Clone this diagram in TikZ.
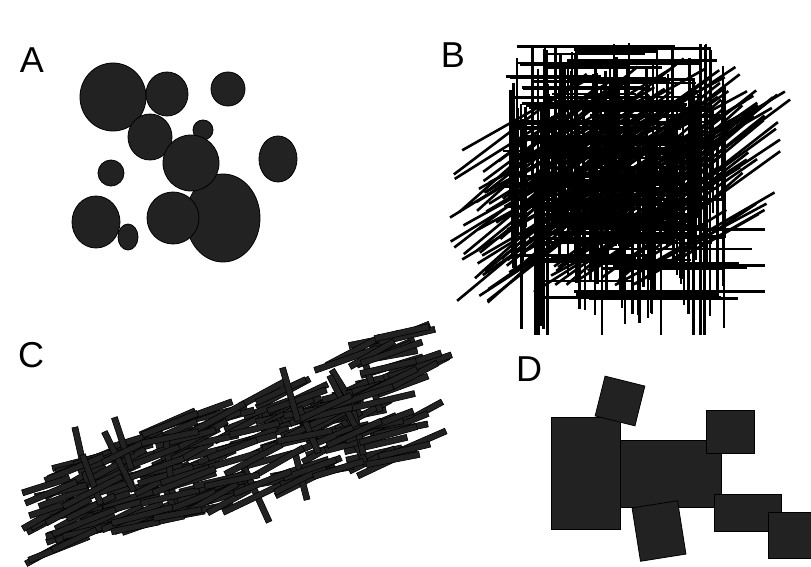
\documentclass[tikz,border=0pt]{standalone}
\usepackage{fontspec}
\setmainfont{Liberation Sans}
\usetikzlibrary{calc}
\definecolor{blob}{HTML}{222222}
\tikzset{
  panel/.style={font=\fontsize{36}{40}\selectfont,inner sep=0pt},
  disc/.style={draw=black,fill=blob,line width=0.8pt},
  rod/.style={draw=black,line width=2.6pt},
  bar/.style={draw=black,fill=blob,line width=0.6pt},
  slab/.style={draw=black,fill=blob,line width=0.8pt}
}

\begin{document}
\begin{tikzpicture}[x=1pt,y=-1pt]
  \useasboundingbox (0,0) rectangle (811,567);
  \clip (0,0) rectangle (811,567);
  \pgfmathsetseed{11}
  % panel labels
  \node[panel] (labA) at (32,60) {A};
  \node[panel] (labB) at (453,55) {B};
  \node[panel] (labC) at (31,355) {C};
  \node[panel] (labD) at (529,369) {D};
  % A: spheres
  \foreach \x/\y/\rx/\ry in {113/97/33/34, 167/94/21/22, 150/137/22/23,
      203/130/10/10, 223/218/37/44, 191/163/28/28, 173/218/26/26,
      228/89/17/17, 278/159/19/23, 111/173/13/13, 96/222/24/26, 128/237/10/13}
    \filldraw[disc] (\x,\y) ellipse [x radius=\rx pt, y radius=\ry pt];
  % B: rods along three axes
  \foreach \i in {1,...,420}{
    \pgfmathsetmacro\kind{int(mod(\i,3))}
    \ifnum\kind=0
      \pgfmathsetmacro\hy{45+255*rnd}
      \pgfmathsetmacro\hf{(\hy-45)/255}
      \pgfmathsetmacro\hx{495+100*rnd+60*\hf*rnd}
      \pgfmathsetmacro\hl{min(\hx+80+80*rnd,ifthenelse(\hy<200,725,765))}
      \draw[rod] (\hx,\hy) -- (\hl,\hy);
    \fi
    \ifnum\kind=1
      \pgfmathsetmacro\vx{510+215*rnd}
      \pgfmathsetmacro\vy{43+150*rnd}
      \pgfmathsetmacro\vl{min(\vy+100+80*rnd,335)}
      \draw[rod] (\vx,\vy) -- (\vx,\vl);
    \fi
    \ifnum\kind=2
      \pgfmathsetmacro\cx{520+200*rnd}
      \pgfmathsetmacro\cy{110+140*rnd}
      \pgfmathsetmacro\a{28+14*rnd}
      \pgfmathsetmacro\l{55+45*rnd}
      \draw[rod] ({\cx-\l*cos(\a)},{\cy+\l*sin(\a)}) -- ({\cx+\l*cos(\a)},{\cy-\l*sin(\a)});
    \fi
  }
  % C: packed bars
  \foreach \i in {1,...,240}{
    \pgfmathsetmacro\t{rnd}
    \pgfmathsetmacro\cx{45+380*\t}
    \pgfmathsetmacro\cy{512-125*\t+(42+24*\t)*(2*rnd-1)}
    \pgfmathsetmacro\a{ifthenelse(rnd<0.07,95+30*rnd,10+20*rnd)}
    \pgfmathsetmacro\l{24+10*rnd}
    \filldraw[bar, rotate around={\a:(\cx,\cy)}] (\cx-\l,\cy-3) rectangle (\cx+\l,\cy+3);
  }
  % D: blocks
  \filldraw[slab] (620,440) rectangle (721,507);
  \filldraw[slab] (551,417) rectangle (620,529);
  \filldraw[slab, rotate around={-14:(620,401)}] (599.5,380.5) rectangle (640.5,421.5);
  \filldraw[slab] (706,410) rectangle (754,453);
  \filldraw[slab, rotate around={9:(659,531)}] (636,504) rectangle (682,558);
  \filldraw[slab] (714,494) rectangle (781,531);
  \filldraw[slab] (768,512) rectangle (830,558);
\end{tikzpicture}
\end{document}
